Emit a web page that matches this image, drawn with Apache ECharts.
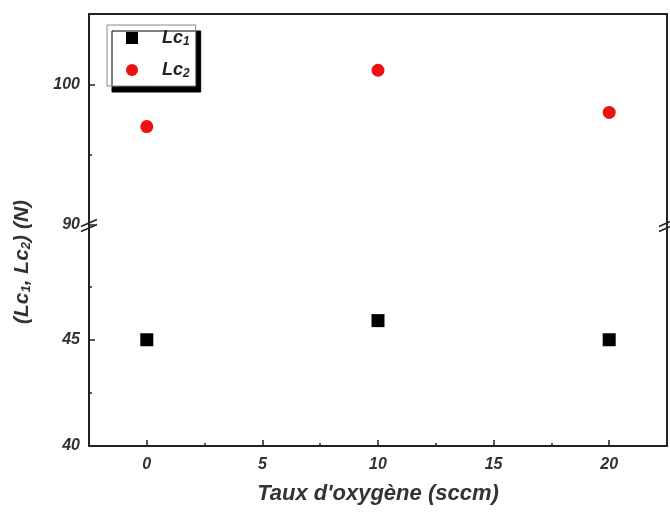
<!DOCTYPE html>
<html>
<head>
<meta charset="utf-8">
<script src="https://cdn.jsdelivr.net/npm/echarts@6/dist/echarts.min.js"></script>
<style>html,body{margin:0;padding:0;background:#fff}#c{width:670px;height:513px}</style>
</head>
<body>
<div id="c"></div>
<script>
// ---- data ----
var xValues = [0, 10, 20];
var lc1Values = [45.0, 45.9, 45.0];
var lc2Values = [97.0, 101.0, 98.0];
var xTickLabels = [0, 5, 10, 15, 20];
var xMinorTicks = [2.5, 7.5, 12.5, 17.5];
var upperTickLabels = [90, 100];
var upperMinorTicks = [95];
var lowerTickLabels = [40, 45];
var lowerMinorTicks = [42.5, 47.5];
var seriesNames = ['Lc1', 'Lc2'];

var FONT = '"Liberation Sans", Arial, sans-serif';
var AX = '#222';
var labelStyle = {fontFamily: FONT, fontWeight: 'bold', fontStyle: 'italic', fontSize: 16, color: '#333'};

function pairs(xs, ys) { return xs.map(function (x, i) { return [x, ys[i]]; }); }

var chart = echarts.init(document.getElementById('c'), null, {renderer: 'canvas'});

function breakMark(cx, cy) {
  return {
    type: 'group', z: 100,
    children: [
      {type: 'polygon', shape: {points: [[cx - 8, cy + 1.5], [cx + 8, cy - 5.5], [cx + 8, cy - 0.5], [cx - 8, cy + 6.5]]}, style: {fill: '#fff'}},
      {type: 'line', shape: {x1: cx - 8, y1: cy + 1.5, x2: cx + 8, y2: cy - 5.5}, style: {stroke: AX, lineWidth: 1.6}},
      {type: 'line', shape: {x1: cx - 8, y1: cy + 6.5, x2: cx + 8, y2: cy - 0.5}, style: {stroke: AX, lineWidth: 1.6}}
    ]
  };
}

var hiddenLine = {show: false, onZero: false};

var option = {
  backgroundColor: '#fff',
  animation: false,
  grid: [
    {left: 89, right: 3, top: 14, height: 211},
    {left: 89, right: 3, top: 225, bottom: 67}
  ],
  xAxis: [
    {gridIndex: 0, type: 'value', min: -2.5, max: 22.5, position: 'top',
     axisLine: {show: true, onZero: false, lineStyle: {color: AX, width: 2}},
     axisTick: {show: false}, axisLabel: {show: false}, splitLine: {show: false}},
    {gridIndex: 1, type: 'value', min: -2.5, max: 22.5, position: 'bottom',
     axisLine: {show: true, onZero: false, lineStyle: {color: AX, width: 2}},
     axisTick: {show: true, inside: true, length: 6, customValues: xTickLabels, lineStyle: {color: AX, width: 1.5}},
     axisLabel: Object.assign({customValues: xTickLabels, margin: 11}, labelStyle),
     splitLine: {show: false},
     name: "Taux d'oxygène (sccm)", nameLocation: 'middle', nameGap: 37,
     nameTextStyle: {fontFamily: FONT, fontWeight: 'bold', fontStyle: 'italic', fontSize: 22, color: '#333'}},
    {gridIndex: 1, type: 'value', min: -2.5, max: 22.5, position: 'bottom',
     axisLine: hiddenLine,
     axisTick: {show: true, inside: true, length: 3, customValues: xMinorTicks, lineStyle: {color: AX, width: 1.5}},
     axisLabel: {show: false}, splitLine: {show: false}}
  ],
  yAxis: [
    {gridIndex: 0, type: 'value', min: 90, max: 105, position: 'left',
     axisLine: {show: true, onZero: false, lineStyle: {color: AX, width: 2}},
     axisTick: {show: true, inside: true, length: 6, customValues: upperTickLabels, lineStyle: {color: AX, width: 1.5}},
     axisLabel: Object.assign({customValues: upperTickLabels, margin: 9}, labelStyle),
     splitLine: {show: false}},
    {gridIndex: 0, type: 'value', min: 90, max: 105, position: 'left',
     axisLine: hiddenLine,
     axisTick: {show: true, inside: true, length: 3, customValues: upperMinorTicks, lineStyle: {color: AX, width: 1.5}},
     axisLabel: {show: false}, splitLine: {show: false}},
    {gridIndex: 0, type: 'value', min: 90, max: 105, position: 'right',
     axisLine: {show: true, onZero: false, lineStyle: {color: AX, width: 2}},
     axisTick: {show: false}, axisLabel: {show: false}, splitLine: {show: false}},
    {gridIndex: 1, type: 'value', min: 40, max: 50.4, position: 'left',
     axisLine: {show: true, onZero: false, lineStyle: {color: AX, width: 2}},
     axisTick: {show: true, inside: true, length: 6, customValues: lowerTickLabels, lineStyle: {color: AX, width: 1.5}},
     axisLabel: Object.assign({customValues: lowerTickLabels, margin: 9}, labelStyle),
     splitLine: {show: false}},
    {gridIndex: 1, type: 'value', min: 40, max: 50.4, position: 'left',
     axisLine: hiddenLine,
     axisTick: {show: true, inside: true, length: 3, customValues: lowerMinorTicks, lineStyle: {color: AX, width: 1.5}},
     axisLabel: {show: false}, splitLine: {show: false}},
    {gridIndex: 1, type: 'value', min: 40, max: 50.4, position: 'right',
     axisLine: {show: true, onZero: false, lineStyle: {color: AX, width: 2}},
     axisTick: {show: false}, axisLabel: {show: false}, splitLine: {show: false}}
  ],
  legend: {
    orient: 'vertical', left: 107, top: 25,
    data: [{name: seriesNames[0], icon: 'rect'}, {name: seriesNames[1], icon: 'circle'}],
    itemWidth: 12, itemHeight: 12, itemGap: 12,
    padding: [3, 6, 6, 19],
    backgroundColor: '#fff', borderColor: '#888', borderWidth: 1,
    shadowColor: '#000', shadowBlur: 0, shadowOffsetX: 5, shadowOffsetY: 6,
    formatter: function (n) { return '{m|Lc}{s|' + n.slice(2) + '}'; },
    textStyle: {
      padding: [0, 0, 0, 19],
      rich: {
        m: {fontFamily: FONT, fontWeight: 'bold', fontStyle: 'italic', fontSize: 18, color: '#222', lineHeight: 23},
        s: {fontFamily: FONT, fontWeight: 'bold', fontStyle: 'italic', fontSize: 12, color: '#222', lineHeight: 23, padding: [8, 0, 0, 0]}
      }
    },
    itemStyle: {opacity: 1}
  },
  series: [
    {name: seriesNames[0], type: 'scatter', xAxisIndex: 1, yAxisIndex: 3, symbol: 'rect', symbolSize: 13,
     itemStyle: {color: '#000', opacity: 1}, data: pairs(xValues, lc1Values)},
    {name: seriesNames[1], type: 'scatter', xAxisIndex: 0, yAxisIndex: 0, symbol: 'circle', symbolSize: 13,
     itemStyle: {color: '#ee1111', opacity: 1}, data: pairs(xValues, lc2Values)}
  ],
  graphic: [
    breakMark(89, 225),
    breakMark(667, 225),
    {type: 'text', x: 22, y: 262, rotation: Math.PI / 2, z: 100,
     style: {
       text: '{m|(Lc}{s|1}{m|, Lc}{s|2}{m|) (N)}', align: 'center', verticalAlign: 'middle',
       rich: {
         m: {fontFamily: FONT, fontWeight: 'bold', fontStyle: 'italic', fontSize: 21, fill: '#333'},
         s: {fontFamily: FONT, fontWeight: 'bold', fontStyle: 'italic', fontSize: 13, fill: '#333', padding: [9, 0, 0, 0]}
       }
     }}
  ]
};
chart.setOption(option);
</script>
</body>
</html>
